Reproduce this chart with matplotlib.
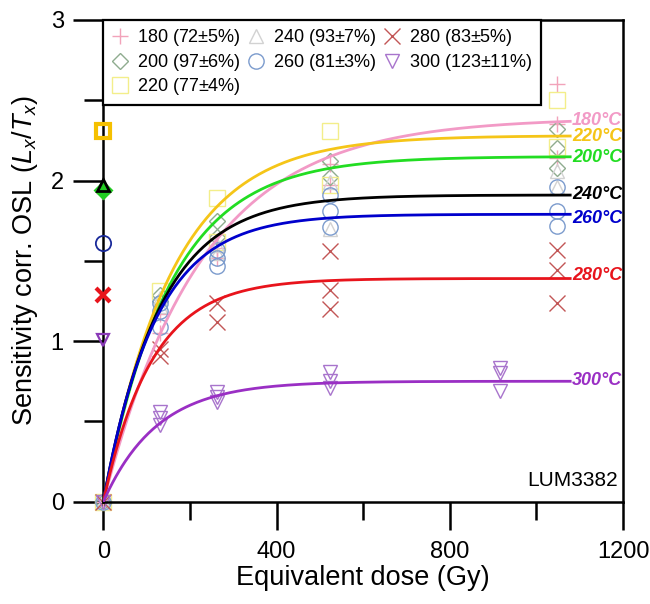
import numpy as np
import matplotlib
matplotlib.use('Agg')
import matplotlib.pyplot as plt
from matplotlib.ticker import MultipleLocator

plt.rcParams['font.family'] = ['Liberation Sans', 'DejaVu Sans']
plt.rcParams['mathtext.fontset'] = 'custom'
plt.rcParams['mathtext.rm'] = 'Liberation Sans'
plt.rcParams['mathtext.it'] = 'Liberation Sans:italic'
plt.rcParams['mathtext.bf'] = 'Liberation Sans:bold'

# ---------------- data ----------------
temps = [180, 200, 220, 240, 260, 280, 300]
recovery = ['72±5', '97±6', '77±4', '93±7', '81±3', '83±5', '123±11']

dose_180 = [0, 131, 131, 262, 262, 524, 524, 1048, 1048, 1048]
val_180 = [0.0, 1.17, 1.05, 1.58, 1.52, 2.10, 1.97, 2.60, 2.35, 2.14]
dose_200 = [0, 131, 131, 262, 262, 524, 524, 1048, 1048, 1048]
val_200 = [0.0, 1.29, 1.25, 1.75, 1.65, 2.12, 2.02, 2.32, 2.20, 2.08]
dose_220 = [0, 131, 262, 262, 524, 524, 1048, 1048]
val_220 = [0.0, 1.31, 1.89, 1.62, 2.31, 1.97, 2.50, 2.21]
dose_240 = [0, 131, 131, 262, 262, 524, 524, 1048, 1048]
val_240 = [0.0, 1.27, 1.22, 1.60, 1.55, 1.99, 1.70, 2.06, 1.96]
dose_260 = [0, 131, 131, 131, 262, 262, 262, 524, 524, 524, 1048, 1048, 1048]
val_260 = [0.0, 1.24, 1.19, 1.09, 1.57, 1.52, 1.47, 1.91, 1.81, 1.71, 1.96, 1.81, 1.72]
dose_280 = [0, 131, 131, 262, 262, 524, 524, 524, 1048, 1048, 1048]
val_280 = [0.0, 0.95, 0.91, 1.24, 1.12, 1.56, 1.32, 1.20, 1.57, 1.44, 1.24]
dose_300 = [0, 131, 131, 131, 262, 262, 262, 524, 524, 524, 917, 917, 917]
val_300 = [0.0, 0.56, 0.52, 0.48, 0.68, 0.65, 0.62, 0.81, 0.75, 0.71, 0.835, 0.80, 0.69]

# natural (test-dose corrected) signals plotted at zero dose
natural_val = [1.93, 1.94, 2.31, 1.97, 1.61, 1.29, 1.01]

# saturating-exponential fit parameters  y = A (1 - exp(-D/D0))
fit_A = [2.39, 2.15, 2.28, 1.91, 1.79, 1.39, 0.75]
fit_D0 = [228, 155, 160, 130, 120, 112, 124]
fit_end = 1078

label_y = [2.375, 2.146, 2.272, 1.915, 1.765, 1.41, 0.755]

doses = [dose_180, dose_200, dose_220, dose_240, dose_260, dose_280, dose_300]
vals = [val_180, val_200, val_220, val_240, val_260, val_280, val_300]

# ---------------- styles ----------------
markers = ['+', 'D', 's', '^', 'o', 'x', 'v']
msizes = [12, 8, 11, 10, 11, 11, 10]
pt_colors = ['#f2a3ba', '#8fac8f', '#f3ee8a', '#d2d2d2', '#7b9bcd', '#c25656', '#a874cc']
line_colors = ['#f29ac6', '#22dd22', '#f5c518', '#000000', '#0000cc', '#e8141c', '#9a2fc4']
nat_colors = ['#f29ac6', '#22cc22', '#f5c000', '#000000', '#1a2a9a', '#e8141c', '#8a3ab8']

fig = plt.figure(figsize=(6.5, 6.04), dpi=100)
ax = fig.add_axes([0.159, 0.1694, 0.7995, 0.7975])

handles = []
for i, t in enumerate(temps):
    lab = f"{t} (" + r"$\mathit{" + recovery[i] + r"\%}$" + ")"
    h, = ax.plot(doses[i], vals[i], ls='none', marker=markers[i], ms=msizes[i],
                 mfc='none', mec=pt_colors[i], mew=1.0, label=lab, clip_on=False, zorder=2)
    handles.append(h)

for i, t in enumerate(temps):
    d = np.linspace(0, fit_end, 300)
    ax.plot(d, fit_A[i] * (1 - np.exp(-d / fit_D0[i])), color=line_colors[i], lw=2.0, zorder=3)
    ax.text(fit_end + 4, label_y[i], f"{t}°C", color=line_colors[i], fontsize=13,
            fontweight='bold', fontstyle='italic', va='center', ha='left', zorder=5)

# natural points at zero dose (bold)
nat_ms = [10, 8, 10, 9, 11, 10, 9]
nat_mew = [2.5, 2.0, 3.0, 2.0, 1.3, 3.0, 1.6]
nat_mfc = ['none', '#22cc22', 'none', 'none', 'none', 'none', 'none']
for i in range(len(temps)):
    ax.plot([0], [natural_val[i]], ls='none', marker=markers[i], ms=nat_ms[i],
            mfc=nat_mfc[i], mec=nat_colors[i], mew=nat_mew[i], clip_on=False, zorder=6)

ax.set_xlim(0, 1200)
ax.set_ylim(0, 3)
ax.xaxis.set_major_locator(MultipleLocator(400))
ax.xaxis.set_minor_locator(MultipleLocator(200))
ax.yaxis.set_major_locator(MultipleLocator(1))
ax.yaxis.set_minor_locator(MultipleLocator(0.5))

for s in ax.spines.values():
    s.set_linewidth(1.8)
ax.tick_params(which='both', direction='out', width=1.8, top=False, right=False)
ax.tick_params(axis='x', which='major', length=20, labelsize=17, pad=8)
ax.tick_params(axis='x', which='minor', length=13)
ax.tick_params(axis='y', which='major', length=21.5, labelsize=17, pad=7)
ax.tick_params(axis='y', which='minor', length=14)

ax.set_xlabel('Equivalent dose (Gy)', fontsize=19.5, labelpad=2)
ax.set_ylabel(r'Sensitivity corr. OSL ($L_x$/$T_x$)', fontsize=19.5, labelpad=8)

ax.text(0.99, 0.025, 'LUM3382', transform=ax.transAxes, ha='right', va='bottom',
        fontsize=15, zorder=6)

leg = ax.legend(handles=handles, ncol=3, loc='upper left', bbox_to_anchor=(0, 1),
                borderaxespad=0, fontsize=13, frameon=True, fancybox=False,
                edgecolor='black', framealpha=1, handlelength=1.0, handletextpad=0.45,
                columnspacing=0.35, labelspacing=0.2, borderpad=0.4)
leg.get_frame().set_linewidth(1.6)
leg.set_zorder(10)

fig.savefig('out.png', dpi=100)
